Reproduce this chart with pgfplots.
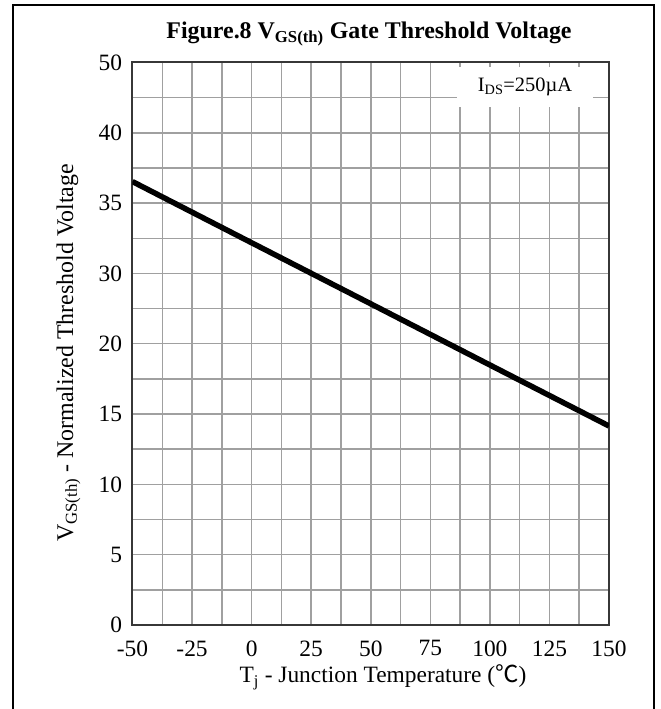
\documentclass[border=0pt]{standalone}
\usepackage{pgfplots}
\pgfplotsset{compat=1.18}
\usepackage{fontspec}
\setmainfont{Liberation Serif}
\newfontfamily\cjk{Noto Sans CJK SC}
\definecolor{gridgray}{RGB}{160,160,160}
\definecolor{axisdark}{RGB}{55,55,55}
\begin{document}
\begin{tikzpicture}[x=1bp,y=1bp]
\path[use as bounding box] (-132.5,-84) rectangle (528.5,625);
\begin{axis}[
  at={(0,0)}, anchor=south west,
  scale only axis, width=476.5bp, height=562.5bp,
  xmin=-50, xmax=150, ymin=0, ymax=40,
  xtick={-50,-25,0,25,50,75,100,125,150},
  xticklabels={-50,-25,0,25,50,75,100,125,150},
  ytick={0,5,10,15,20,25,30,35,40},
  yticklabels={0,5,10,15,20,30,35,40,50},
  minor x tick num=1, minor y tick num=1,
  major tick length=0pt, minor tick length=0pt,
  grid=both,
  major grid style={gridgray, line width=1.5bp},
  minor grid style={gridgray, line width=1.5bp},
  axis line style={axisdark, line width=2bp},
  tick label style={font=\fontsize{23.5}{27}\selectfont},
  xticklabel style={yshift=-12bp},
  yticklabel style={xshift=-7bp},
]
\addplot[black, line width=5.5bp] coordinates {
  (-50,31.53) (0,27.18) (50,22.84) (100,18.49) (150,14.15)
};
\end{axis}
\node[fill=white, minimum width=136bp, minimum height=40bp, inner sep=0pt,
  font=\fontsize{20.5}{24}\selectfont] at (392.5,538) {I\textsubscript{DS}=250µA};
\node[font=\fontsize{24}{28}\selectfont\bfseries] at (236.5,591)
  {Figure.8 V\textsubscript{GS(th)} Gate Threshold Voltage};
\node[font=\fontsize{24}{28}\selectfont, rotate=90] at (-64,272)
  {V\textsubscript{GS(th)} - Normalized Threshold Voltage};
\node[font=\fontsize{23.5}{28}\selectfont] at (250.5,-52)
  {T\textsubscript{j} - Junction Temperature ({\cjk ℃})};
\draw[black, line width=2bp] (-119.5,-84) -- (-119.5,620) -- (521.5,620) -- (521.5,-84);
\end{tikzpicture}
\end{document}
